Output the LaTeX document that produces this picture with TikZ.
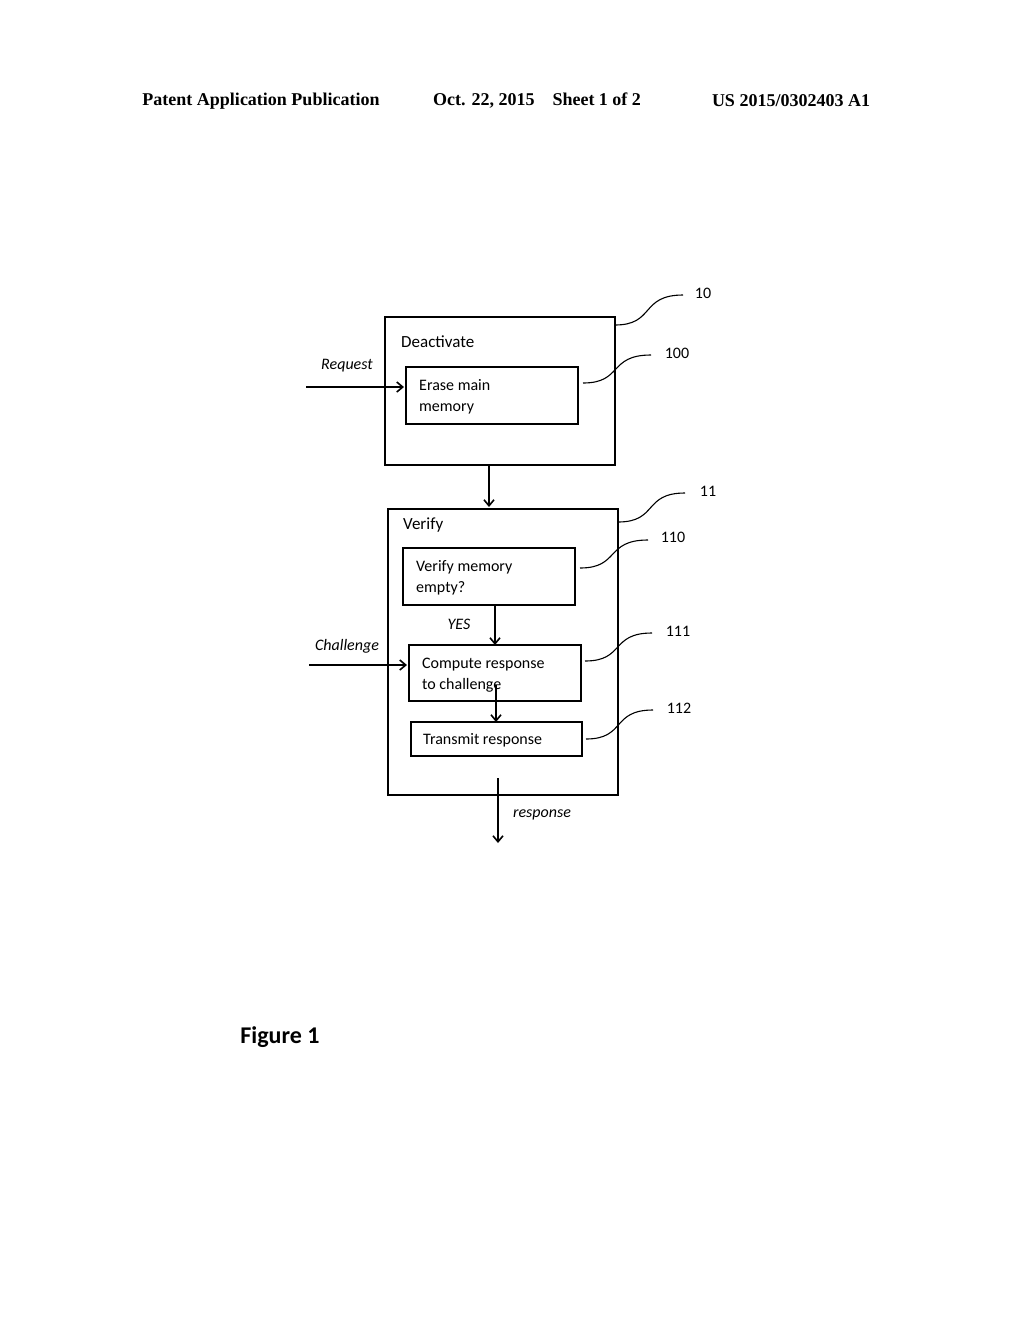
\documentclass[tikz,border=0pt]{standalone}
\usepackage{fontspec}
\setmainfont{Carlito}
\newfontfamily\hdr{Liberation Serif}
\usetikzlibrary{arrows.meta}
\begin{document}
\begin{tikzpicture}[x=1pt,y=-1pt,
 box/.style={draw,line width=1.3pt},
 txt/.style={anchor=west,font=\fontsize{16}{21}\selectfont,align=left,inner sep=0pt},
 lbl/.style={font=\fontsize{16}{19}\selectfont\itshape,inner sep=0pt},
 num/.style={font=\fontsize{16}{19}\selectfont,inner sep=0pt},
 arr/.style={line width=1.3pt,-{Straight Barb[length=6pt,width=10pt,line width=1.6pt]}},
 lead/.style={line width=1.1pt}]
\useasboundingbox (0,0) rectangle (1024,1320);
\node[font=\hdr\bfseries\fontsize{18}{20}\selectfont] (h1) at (261,101) {Patent Application Publication};
\node[font=\hdr\bfseries\fontsize{18}{20}\selectfont] (h2) at (537,101) {Oct. 22, 2015\quad Sheet 1 of 2};
\node[font=\hdr\bfseries\fontsize{18}{20}\selectfont] (h3) at (791,101) {US 2015/0302403 A1};
% boxes
\draw[box] (385,317) rectangle (615,465);
\coordinate (b10) at (615,325);
\node[txt] (t10) at (401,342) {\fontsize{17}{21}\selectfont Deactivate};
\draw[box] (406,367) rectangle (578,424);
\node[txt] (t100) at (419,397) {Erase main\\memory};
\draw[box] (388,509) rectangle (618,795);
\node[txt] (t11) at (403,525) {\fontsize{17}{21}\selectfont Verify};
\draw[box] (403,548) rectangle (575,605);
\node[txt] (t110) at (416,578) {Verify memory\\empty?};
\draw[box] (409,645) rectangle (581,701);
\node[txt] (t111) at (422,675) {Compute response\\to challenge};
\draw[box] (411,722) rectangle (582,756);
\node[txt] (t112) at (423,740) {Transmit response};
% arrows
\coordinate (a1) at (489,465); \coordinate (a2) at (489,507);
\draw[arr] (a1) -- (a2);
\coordinate (y1) at (495,605); \coordinate (y2) at (495,645);
\draw[arr] (y1) -- (y2);
\node[lbl] (yes) at (459,624) {YES};
\coordinate (c1) at (496,685); \coordinate (c2) at (496,722);
\draw[arr] (c1) -- (c2);
\coordinate (r1) at (498,778); \coordinate (r2) at (498,843);
\draw[arr] (r1) -- (r2);
\node[lbl] (resp) at (542,815) {response};
\coordinate (q1) at (306,387); \coordinate (q2) at (404,387);
\draw[arr] (q1) -- (q2);
\node[lbl] (req) at (347,366) {Request};
\coordinate (ch1) at (309,665); \coordinate (ch2) at (407,665);
\draw[arr] (ch1) -- (ch2);
\node[lbl] (chal) at (347,646) {Challenge};
% leaders
\foreach \sx/\sy/\ex/\ey/\n/\lx/\ly in {615/325/683/295/10/703/293, 583/383/651/355/100/677/353, 618/522/685/493/11/708/491, 580/568/648/540/110/673/537, 585/661/652/633/111/678/631, 586/739/653/710/112/679/708}{
 \draw[lead] (\sx,\sy) .. controls (\sx+40,\sy) and (\sx+25,\ey) .. (\ex,\ey);
 \node[num] at (\lx,\ly) {\n};
}
\node[font=\bfseries\fontsize{24}{28}\selectfont] (fig) at (280,1037) {Figure 1};
\end{tikzpicture}
\end{document}
